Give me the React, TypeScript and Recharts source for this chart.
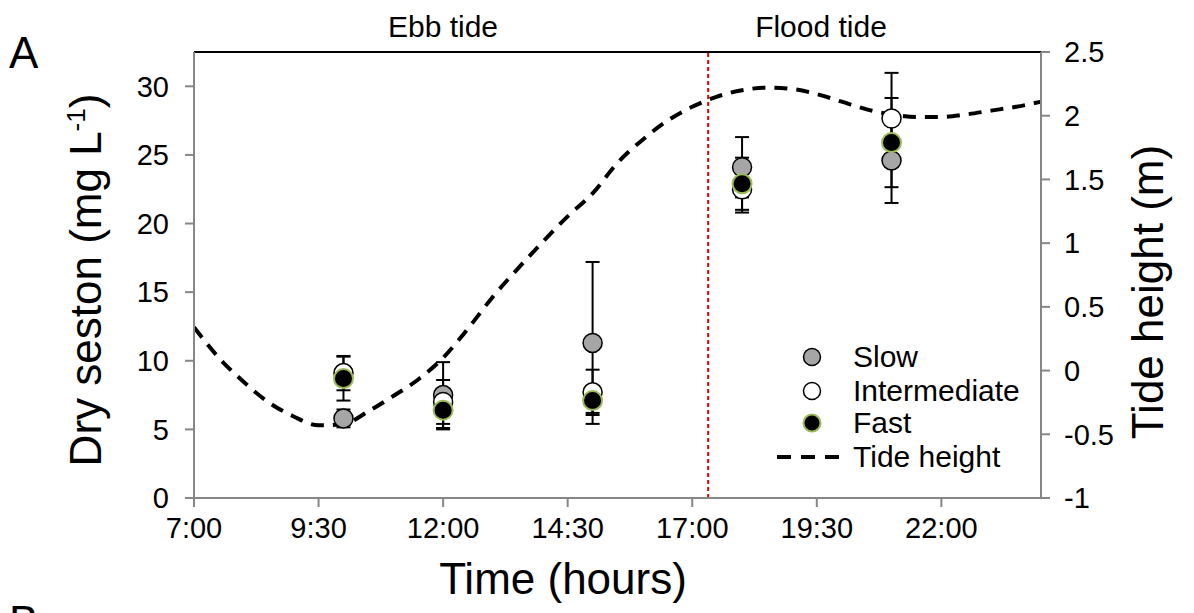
import { ComposedChart, Scatter, Line, XAxis, YAxis, ErrorBar, ReferenceLine } from "recharts";

// sampling times (hours) and dry seston per flow treatment
const GROUP_HOURS = [10, 12, 15, 18, 21];
const SLOW = [5.8, 7.5, 11.3, 24.1, 24.6];
const SLOW_ERR = [0.65, 2.4, 5.9, 2.2, 3.1];
const INTERMEDIATE = [9.1, 7.0, 7.7, 22.5, 27.65];
const INTERMEDIATE_ERR = [1.25, 1.6, 1.65, 1.7, 3.33];
const FAST = [8.7, 6.4, 7.1, 22.9, 25.9];
const FAST_ERR = [1.6, 1.4, 0.9, 1.9, 3.25];

// tide curve
const TIDE_HOURS = [7, 7.5, 8, 8.5, 9, 9.5, 10, 10.5, 11, 11.5, 12, 12.5, 13, 13.5, 14, 14.5, 15, 15.5, 16, 16.5, 17, 17.5, 18, 18.5, 19, 19.5, 20, 20.5, 21, 21.5, 22, 22.5, 23, 23.5, 24];
const TIDE_HEIGHT = [0.34, 0.1, -0.09, -0.25, -0.36, -0.43, -0.42, -0.32, -0.2, -0.07, 0.1, 0.33, 0.58, 0.8, 1.01, 1.21, 1.39, 1.63, 1.81, 1.96, 2.07, 2.15, 2.2, 2.22, 2.21, 2.17, 2.11, 2.05, 2.01, 1.99, 1.99, 2.01, 2.04, 2.07, 2.11];

const X_TICKS = [7, 9.5, 12, 14.5, 17, 19.5, 22];
const LEFT_TICKS = [0, 5, 10, 15, 20, 25, 30];
const RIGHT_TICKS = [-1, -0.5, 0, 0.5, 1, 1.5, 2, 2.5];
const TIDE_TURN = 17.32;

const FONT = "'Liberation Sans', Arial, sans-serif";
const AXIS_GREY = "#868686";
const GREEN = "#9bbb59";

const rows = (vals: number[], errs: number[]) =>
  GROUP_HOURS.map((h, i) => ({ hour: h, value: vals[i], err: errs[i] }));

const slowData = rows(SLOW, SLOW_ERR);
const intData = rows(INTERMEDIATE, INTERMEDIATE_ERR);
const fastData = rows(FAST, FAST_ERR);
const tideData = TIDE_HOURS.map((h, i) => ({ hour: h, tide: TIDE_HEIGHT[i] }));

const fmtTime = (v: number) => {
  const h = Math.floor(v);
  const m = Math.round((v - h) * 60);
  return `${h}:${String(m).padStart(2, "0")}`;
};

const dot = (fill: string, stroke: string, sw: number) => (p: any) =>
  <circle cx={p.cx} cy={p.cy} r={9.5} fill={fill} stroke={stroke} strokeWidth={sw} />;
const noDot = () => <g />;

function Titles() {
  return (
    <g fontFamily={FONT} fill="#000">
      <text x={9} y={68} fontSize={44}>A</text>
      <text x={9} y={637} fontSize={44}>B</text>
      <text x={443} y={37} fontSize={30} textAnchor="middle">Ebb tide</text>
      <text x={821} y={37} fontSize={30} textAnchor="middle">Flood tide</text>
      <text x={563} y={594} fontSize={44} textAnchor="middle">Time (hours)</text>
      <text x={101} y={280} fontSize={44} textAnchor="middle" transform="rotate(-90 101 280)">
        Dry seston (mg L<tspan dy={-16} fontSize={26}>-1</tspan><tspan dy={16}>)</tspan>
      </text>
      <text x={1163} y={292} fontSize={44} textAnchor="middle" transform="rotate(-90 1163 292)">
        Tide height (m)
      </text>
    </g>
  );
}

function LegendBox() {
  const row = (top: number, icon: any, label: string) => (
    <div style={{ position: "absolute", left: 0, top: top - 18, height: 36, display: "flex", alignItems: "center", whiteSpace: "nowrap" }}>
      <svg width={78} height={36}>{icon}</svg>
      <span style={{ fontSize: 30, lineHeight: "36px", marginLeft: 0 }}>{label}</span>
    </div>
  );
  return (
    <div style={{ position: "absolute", left: 775, top: 0, width: 300, fontFamily: FONT, color: "#000" }}>
      {row(357, <circle cx={37} cy={18} r={8.5} fill="#a6a6a6" stroke="#000" strokeWidth={1.5} />, "Slow")}
      {row(391, <circle cx={37} cy={18} r={8.5} fill="#fff" stroke="#000" strokeWidth={1.5} />, "Intermediate")}
      {row(423, <circle cx={37} cy={18} r={8.5} fill="#000" stroke={GREEN} strokeWidth={2} />, "Fast")}
      {row(457, <line x1={2} y1={18} x2={70} y2={18} stroke="#000" strokeWidth={4} strokeDasharray="14 10" />, "Tide height")}
    </div>
  );
}

export default function App() {
  return (
    <div style={{ position: "absolute", left: 0, top: 0, width: 1194, height: 613, background: "#fff", fontFamily: FONT }}>
      <ComposedChart width={1194} height={613} margin={{ top: 52, right: 0, bottom: 0, left: 0 }}>
        <XAxis
          dataKey="hour"
          type="number"
          domain={[7, 24]}
          ticks={X_TICKS}
          interval={0}
          tickFormatter={fmtTime}
          height={115}
          axisLine={{ stroke: AXIS_GREY, strokeWidth: 2 }}
          tickLine={{ stroke: AXIS_GREY, strokeWidth: 2 }}
          tickSize={9}
          tickMargin={10}
          tick={{ fill: "#000", fontSize: 29 }}
          allowDataOverflow
        />
        <YAxis
          yAxisId="left"
          domain={[0, 32.5]}
          ticks={LEFT_TICKS}
          interval={0}
          width={194}
          axisLine={{ stroke: AXIS_GREY, strokeWidth: 2 }}
          tickLine={{ stroke: AXIS_GREY, strokeWidth: 2 }}
          tickSize={9}
          tickMargin={16}
          tick={{ fill: "#000", fontSize: 29 }}
          allowDataOverflow
        />
        <YAxis
          yAxisId="right"
          orientation="right"
          domain={[-1, 2.5]}
          ticks={RIGHT_TICKS}
          interval={0}
          width={153}
          axisLine={{ stroke: AXIS_GREY, strokeWidth: 2 }}
          tickLine={{ stroke: AXIS_GREY, strokeWidth: 2 }}
          tickSize={9}
          tickMargin={14}
          tick={{ fill: "#000", fontSize: 29 }}
          allowDataOverflow
        />
        <ReferenceLine yAxisId="left" y={32.5} stroke="#000" strokeWidth={2} label={<Titles />} />
        <ReferenceLine yAxisId="left" x={TIDE_TURN} stroke="#e00000" strokeWidth={2} strokeDasharray="4 3" />
        <Line
          yAxisId="right"
          data={tideData}
          dataKey="tide"
          type="monotone"
          stroke="#000"
          strokeWidth={4}
          strokeDasharray="13 9"
          dot={false}
          activeDot={false}
          isAnimationActive={false}
        />
        {/* error bars first so every marker sits on top of them */}
        <Scatter yAxisId="left" data={slowData} dataKey="value" shape={noDot} isAnimationActive={false}>
          <ErrorBar dataKey="err" direction="y" width={7} stroke="#000" strokeWidth={2} isAnimationActive={false} />
        </Scatter>
        <Scatter yAxisId="left" data={intData} dataKey="value" shape={noDot} isAnimationActive={false}>
          <ErrorBar dataKey="err" direction="y" width={7} stroke="#000" strokeWidth={2} isAnimationActive={false} />
        </Scatter>
        <Scatter yAxisId="left" data={fastData} dataKey="value" shape={noDot} isAnimationActive={false}>
          <ErrorBar dataKey="err" direction="y" width={7} stroke="#000" strokeWidth={2} isAnimationActive={false} />
        </Scatter>
        <Scatter yAxisId="left" name="Slow" data={slowData} dataKey="value" shape={dot("#a6a6a6", "#000", 1.5)} isAnimationActive={false} />
        <Scatter yAxisId="left" name="Intermediate" data={intData} dataKey="value" shape={dot("#fff", "#000", 1.5)} isAnimationActive={false} />
        <Scatter yAxisId="left" name="Fast" data={fastData} dataKey="value" shape={dot("#000", GREEN, 2)} isAnimationActive={false} />
      </ComposedChart>
      <LegendBox />
    </div>
  );
}
